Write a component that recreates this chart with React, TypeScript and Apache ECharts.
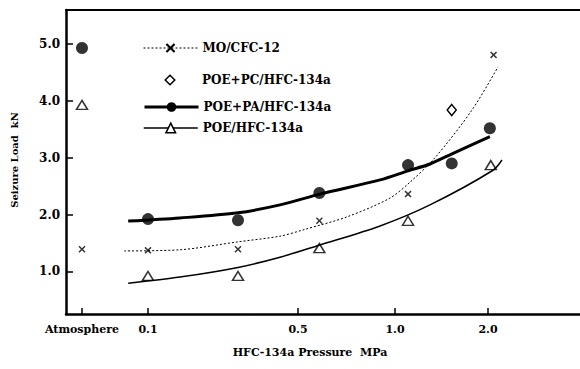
import React, { useEffect, useRef } from 'react';
import * as echarts from 'echarts';

// ---- x axis (the figure's printed, non-uniform pressure axis) ----
const xTickLabels = ['Atmosphere', '0.1', '0.5', '1.0', '2.0'];
const xTickPressures = [0, 0.1, 0.5, 1.0, 2.0];
// where each printed tick sits along the axis, as a fraction of the axis length
const xTickStops = [0.0311, 0.1595, 0.4514, 0.6401, 0.821];

// ---- y axis ----
const yTickValues = [1, 2, 3, 4, 5];

// ---- measured points (pressure MPa, 0 = atmosphere) ----
const moPressure = [0, 0.1, 0.34, 0.61, 1.14, 2.06];
const moLoad = [1.39, 1.37, 1.39, 1.89, 2.36, 4.81];

const pcPressure = [1.61];
const pcLoad = [3.84];

const paPressure = [0, 0.1, 0.34, 0.61, 1.14, 1.61, 2.02];
const paLoad = [4.93, 1.92, 1.9, 2.38, 2.87, 2.9, 3.52];

const poePressure = [0, 0.1, 0.34, 0.61, 1.14, 2.03];
const poeLoad = [3.93, 0.92, 0.92, 1.41, 1.89, 2.87];

// ---- fitted curves ----
const moCurvePressure = [0.064, 0.185, 0.34, 0.452, 0.536, 0.753, 0.974, 1.161, 1.43, 1.828, 2.108];
const moCurveLoad = [1.36, 1.38, 1.52, 1.62, 1.74, 1.96, 2.29, 2.57, 3.0, 3.84, 4.6];

const paCurvePressure = [0.07, 0.185, 0.34, 0.452, 0.613, 0.923, 1.14, 1.376, 1.613, 2.02];
const paCurveLoad = [1.885, 1.94, 2.03, 2.17, 2.36, 2.61, 2.77, 2.89, 3.07, 3.37];

const poeCurvePressure = [0.07, 0.185, 0.34, 0.452, 0.608, 0.923, 1.376, 2.054, 2.15];
const poeCurveLoad = [0.79, 0.9, 1.07, 1.25, 1.46, 1.8, 2.17, 2.78, 2.96];

const names = ['MO/CFC-12', 'POE+PC/HFC-134a', 'POE+PA/HFC-134a', 'POE/HFC-134a'];

function pressureToAxis(p: number): number {
  const P = xTickPressures;
  const S = xTickStops;
  let i = 0;
  while (i < P.length - 2 && p > P[i + 1]) i++;
  return S[i] + ((p - P[i]) * (S[i + 1] - S[i])) / (P[i + 1] - P[i]);
}

function pairs(ps: number[], vs: number[]) {
  return ps.map((p, i) => [pressureToAxis(p), vs[i]]);
}

const FONT = '"DejaVu Serif", "Liberation Serif", serif';
const crossPath =
  'path://M0,1.5L1.5,0L5,3.5L8.5,0L10,1.5L6.5,5L10,8.5L8.5,10L5,6.5L1.5,10L0,8.5L3.5,5Z';

export default function App() {
  const ref = useRef<HTMLDivElement>(null);
  useEffect(() => {
    const chart = echarts.init(ref.current!, null, { renderer: 'svg' });
    const legendText = { fontFamily: FONT, fontWeight: 'bold', fontSize: 12, color: '#000' };
    const legendBase = {
      left: 143,
      itemWidth: 54,
      itemGap: 0,
      padding: 0,
      selectedMode: false,
      textStyle: legendText,
    };
    const option: any = {
      animation: false,
      backgroundColor: '#fff',
      grid: { left: 66, right: 0, top: 10, bottom: 55 },
      xAxis: [
        {
          type: 'value',
          min: 0,
          max: 1,
          axisLine: { show: true, onZero: false, lineStyle: { color: '#000', width: 2.5 } },
          axisTick: {
            show: true,
            inside: true,
            length: 6,
            customValues: xTickStops,
            lineStyle: { color: '#000', width: 1.5 },
          },
          axisLabel: {
            customValues: xTickStops,
            margin: 10,
            fontFamily: FONT,
            fontWeight: 'bold',
            fontSize: 11,
            color: '#000',
            formatter: (v: number) => {
              const i = xTickStops.findIndex((s) => Math.abs(s - v) < 1e-6);
              return i >= 0 ? xTickLabels[i] : '';
            },
          },
          splitLine: { show: false },
        },
        {
          type: 'value',
          position: 'top',
          min: 0,
          max: 1,
          axisLine: { show: true, onZero: false, lineStyle: { color: '#000', width: 2 } },
          axisTick: { show: false },
          axisLabel: { show: false },
          splitLine: { show: false },
        },
      ],
      yAxis: {
        type: 'value',
        min: 0.25,
        max: 5.6,
        axisLine: { show: true, onZero: false, lineStyle: { color: '#000', width: 2.5 } },
        axisTick: {
          show: true,
          inside: true,
          length: 7,
          customValues: yTickValues,
          lineStyle: { color: '#000', width: 1.5 },
        },
        axisLabel: {
          customValues: yTickValues,
          margin: 6,
          fontFamily: FONT,
          fontWeight: 'bold',
          fontSize: 12,
          color: '#000',
          formatter: (v: number) => v.toFixed(1),
        },
        splitLine: { show: false },
      },
      legend: [
        {
          ...legendBase,
          data: [names[0]],
          top: 42,
          itemHeight: 12,
          lineStyle: { width: 1 },
        },
        {
          ...legendBase,
          data: [names[1]],
          top: 74,
          itemHeight: 12,
          lineStyle: { width: 0, opacity: 0 },
          itemStyle: { borderWidth: 1.5 },
        },
        {
          ...legendBase,
          data: [names[2]],
          top: 101,
          itemHeight: 12,
          lineStyle: { width: 3 },
        },
        {
          ...legendBase,
          data: [names[3]],
          top: 122,
          itemHeight: 12,
          lineStyle: { width: 1.5 },
          itemStyle: { borderWidth: 1.5 },
        },
      ],
      series: [
        {
          name: names[0],
          type: 'line',
          silent: true,
          smooth: 0.3,
          symbol: crossPath,
          showSymbol: false,
          itemStyle: { color: '#000' },
          lineStyle: { color: '#000', width: 1, type: [2, 2] },
          data: pairs(moCurvePressure, moCurveLoad),
        },
        {
          name: names[1],
          type: 'line',
          silent: true,
          symbol: 'diamond',
          symbolSize: [9, 11],
          itemStyle: { color: '#fff', borderColor: '#000', borderWidth: 1.5 },
          lineStyle: { width: 0, opacity: 0 },
          data: pairs(pcPressure, pcLoad),
        },
        {
          name: names[2],
          type: 'line',
          silent: true,
          smooth: 0.3,
          symbol: 'circle',
          showSymbol: false,
          itemStyle: { color: '#000' },
          lineStyle: { color: '#000', width: 3 },
          data: pairs(paCurvePressure, paCurveLoad),
        },
        {
          name: names[3],
          type: 'line',
          silent: true,
          smooth: 0.3,
          symbol: 'triangle',
          showSymbol: false,
          itemStyle: { color: '#fff', borderColor: '#000', borderWidth: 1.5 },
          lineStyle: { color: '#000', width: 1.5 },
          data: pairs(poeCurvePressure, poeCurveLoad),
        },
        {
          name: 'MO/CFC-12 points',
          type: 'scatter',
          silent: true,
          symbol: crossPath,
          symbolSize: 7,
          itemStyle: { color: '#000' },
          data: pairs(moPressure, moLoad),
        },
        {
          name: 'POE+PA points',
          type: 'scatter',
          silent: true,
          symbol: 'circle',
          symbolSize: 12,
          itemStyle: { color: '#000' },
          data: pairs(paPressure, paLoad),
        },
        {
          name: 'POE points',
          type: 'scatter',
          silent: true,
          symbol: 'triangle',
          symbolSize: [11, 9],
          itemStyle: { color: '#fff', borderColor: '#000', borderWidth: 1.5 },
          data: pairs(poePressure, poeLoad),
        },
      ],
      graphic: [
        {
          type: 'text',
          x: 14,
          y: 160,
          rotation: Math.PI / 2,
          style: {
            text: 'Seizure Load  kN',
            font: `bold 10px ${FONT}`,
            fill: '#000',
            textAlign: 'center',
            textVerticalAlign: 'middle',
          },
        },
        {
          type: 'text',
          x: 310,
          y: 352,
          style: {
            text: 'HFC-134a Pressure  MPa',
            font: `bold 11px ${FONT}`,
            fill: '#000',
            textAlign: 'center',
            textVerticalAlign: 'middle',
          },
        },
      ],
    };
    chart.setOption(option);
    return () => chart.dispose();
  }, []);
  return (
    <div
      ref={ref}
      style={{ position: 'absolute', left: 0, top: 0, width: 580, height: 369, background: '#fff' }}
    />
  );
}
